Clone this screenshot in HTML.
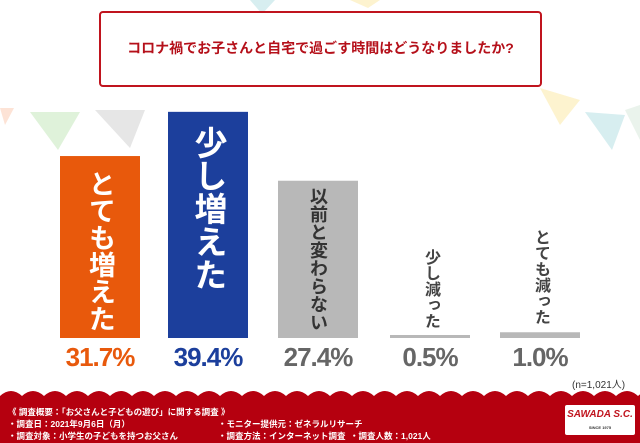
<!DOCTYPE html>
<html><head><meta charset="utf-8"><style>
body{margin:0;width:640px;height:443px;overflow:hidden;background:#fff;font-family:"Liberation Sans","Noto Sans CJK JP",sans-serif;position:relative}
.abs{position:absolute}
.vt{writing-mode:vertical-rl;font-weight:bold;letter-spacing:0;white-space:nowrap}
</style></head><body>
<svg class="abs" style="left:0;top:0" width="640" height="160">
<polygon points="30,112 80,112 58,150" fill="#dff2da"/>
<polygon points="95,110 145,110 130,148" fill="#e6e6e6"/>
<polygon points="0,108 14,108 5,125" fill="#fde3d6"/>
<polygon points="250,0 275,0 262,14" fill="#d7eef0"/>
<polygon points="350,0 380,0 368,8" fill="#fdf3cf"/>
<polygon points="540,88 580,100 560,125" fill="#fdf3cf"/>
<polygon points="585,112 625,115 612,150" fill="#d7eef0"/>
<polygon points="625,110 640,105 640,140" fill="#eaf3ec"/>
</svg>
<div class="abs" style="left:99px;top:11px;width:439px;height:72px;border:2px solid #c0141e;border-radius:4px;background:rgba(255,255,255,0.85)"></div>
<div class="abs" style="left:99px;top:38px;width:443px;text-align:center;color:#b5101a;font-weight:bold;font-size:14px;white-space:nowrap">コロナ禍でお子さんと自宅で過ごす時間はどうなりましたか?</div>
<svg class="abs" id="chart" style="left:0;top:0" width="640" height="400"></svg>
<div class="abs" style="left:572px;top:376px;font-size:10px;color:#333">(n=1,021人)</div>
<svg class="abs" style="left:0;top:388px" width="640" height="55" id="foot"></svg>
<div class="abs" style="left:8px;top:406px;color:#fff;font-size:8.5px;font-weight:bold;line-height:12px;width:560px">
<div>《 調査概要：「お父さんと子どもの遊び」に関する調査 》</div>
<div>・調査日：2021年9月6日（月）<span style="position:absolute;left:210px">・モニター提供元：ゼネラルリサーチ</span></div>
<div>・調査対象：小学生の子どもを持つお父さん<span style="position:absolute;left:210px">・調査方法：インターネット調査</span><span style="position:absolute;left:342px">・調査人数：1,021人</span></div>
</div>
<div class="abs" style="left:565px;top:405px;width:70px;height:30px;background:#fff;border-radius:2px;text-align:center;color:#c0141e;font-weight:bold;font-style:italic;font-size:10px;line-height:20px;white-space:nowrap">SAWADA S.C.<div style="font-size:4px;line-height:5px;color:#333;font-style:normal">SINCE 1975</div></div>
<script>
const categories=["とても増えた","少し増えた","以前と変わらない","少し減った","とても減った"];
const values=[31.7,39.4,27.4,0.5,1.0];
const valueLabels=["31.7%","39.4%","27.4%","0.5%","1.0%"];
const colors=["#e8590c","#1c3f9c","#b8b8b8","#b8b8b8","#b8b8b8"];
const svg=document.getElementById('chart');
const NS="http://www.w3.org/2000/svg";
const base=338, scale=5.74;
const xs=i=>[60,168,278,390,500][i];
const y=v=>base-v*scale;
values.forEach((v,i)=>{
 const r=document.createElementNS(NS,'rect');
 const h=Math.max(base-y(v),3);
 r.setAttribute('x',xs(i));r.setAttribute('y',base-h);r.setAttribute('width',80);r.setAttribute('height',h);r.setAttribute('fill',colors[i]);
 
 
 svg.appendChild(r);
 const t=document.createElement('div');
 t.className='abs vt';
 t.textContent=categories[i];
 
 
 const n=categories[i].length;
 if(i==0){t.style.cssText+=`left:${xs(i)+26}px;top:${y(v)+14}px;font-size:27px;color:#fff;line-height:28px`;}
 else if(i==1){t.style.cssText+=`left:${xs(i)+24}px;top:${y(v)+14}px;font-size:33px;color:#fff;line-height:33px`;}
 else if(i==2){t.style.cssText+=`left:${xs(i)+30}px;top:${y(v)+6}px;font-size:18px;color:#333;line-height:20px`;}
 else{t.style.cssText+=`left:${xs(i)+31}px;top:${base-h-4-n*16.5}px;font-size:16px;color:#444;line-height:18px`;}
 document.body.appendChild(t);
 const l=document.createElement('div');
 l.className='abs';
 l.textContent=valueLabels[i];
 
 
 const c=i<2?colors[i]:'#666';
 l.style.cssText=`left:${xs(i)-10}px;width:100px;text-align:center;top:342px;font-size:26px;font-weight:bold;color:${c};letter-spacing:-1px`;
 document.body.appendChild(l);
});
const f=document.getElementById('foot');
let d='M0,8 ';
for(let x=0;x<640;x+=22){d+=`Q${x+11},-2 ${x+22},8 `;}
d+='L640,55 L0,55 Z';
const p=document.createElementNS(NS,'path');p.setAttribute('d',d);p.setAttribute('fill','#b5000f');


f.appendChild(p);
</script>
</body></html>
